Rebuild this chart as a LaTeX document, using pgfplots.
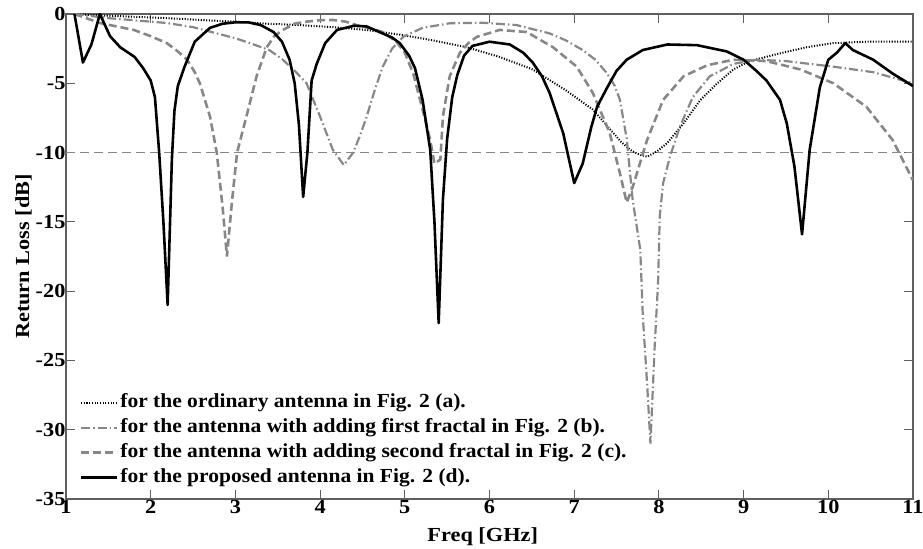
\documentclass[border=0pt]{standalone}
\usepackage{fontspec}
\setmainfont{Liberation Serif}[FakeStretch=1.12]
\newfontfamily\legendfont{Liberation Serif}[FakeStretch=1.08]
\usepackage{pgfplots}
\pgfplotsset{compat=1.18}

\definecolor{curvegray}{RGB}{135,135,135}
\definecolor{axisgray}{RGB}{95,95,95}

\begin{document}
\begin{tikzpicture}

\begin{axis}[
    scale only axis,
    width=847bp, height=485bp,
    xmin=1, xmax=11, ymin=-35, ymax=0,
    xtick={1,2,...,11},
    ytick={-35,-30,...,0},
    tick align=inside,
    tick pos=both,
    major tick length=9bp,
    axis line style={axisgray, line width=1.2pt},
    every tick/.style={axisgray, line width=1pt},
    /pgf/number format/assume math mode=true,
    ticklabel style={font=\fontsize{20}{24}\selectfont\bfseries},
    xticklabel style={yshift=2bp},
    yticklabel style={xshift=3bp},
    xlabel={Freq [GHz]},
    ylabel={Return Loss [dB]},
    label style={font=\fontsize{20}{24}\selectfont\bfseries},
    xlabel style={at={(axis description cs:0.492,-0.078)}, anchor=center},
    ylabel style={at={(axis description cs:-0.05,0.5)}, anchor=center},
    legend style={at={(0.016,0.018)}, anchor=south west, draw=none, fill=none,
        font=\fontsize{20}{25}\selectfont\legendfont\bfseries,
        nodes={text height=14pt, text depth=5pt, inner ysep=3pt, inner xsep=2pt},
        row sep=0pt, inner sep=0pt},
    legend cell align=left,
    legend image code/.code={\draw[#1] (0bp,0bp) -- (36bp,0bp);},
]

% -10 dB reference line
\addplot[forget plot, curvegray, line width=0.9pt, dash pattern=on 9bp off 5bp] coordinates {(1,-10) (11,-10)};

% ordinary antenna
\addplot[black, line width=2pt, dash pattern=on 1.1pt off 1.6pt] coordinates {
(1.1,0) (1.4,-0.1) (1.8,-0.2) (2.2,-0.3) (2.58,-0.43) (3.0,-0.55) (3.37,-0.7)
(3.76,-0.8) (4.15,-0.95) (4.55,-1.15) (4.95,-1.5) (5.33,-1.9) (5.73,-2.4)
(6.12,-3.1) (6.51,-4.0) (6.9,-5.5) (7.22,-6.9) (7.42,-8.3) (7.55,-9.2)
(7.66,-9.8) (7.75,-10.1) (7.86,-10.3) (7.98,-9.9) (8.1,-9.3) (8.29,-7.9)
(8.49,-6.2) (8.69,-5.0) (8.88,-4.0) (9.07,-3.4) (9.39,-2.9) (9.74,-2.4)
(10.06,-2.1) (10.45,-2.0) (11,-2.0)
};
\addlegendentry{for the ordinary antenna in Fig. 2 (a).}

% first fractal
\addplot[curvegray, line width=2.2pt, dash pattern=on 9bp off 3bp on 1.5bp off 3bp] coordinates {
(1.1,0) (1.5,-0.3) (1.8,-0.45) (2.19,-0.65) (2.5,-0.95) (2.78,-1.4) (3.0,-1.75)
(3.17,-2.1) (3.4,-2.6) (3.56,-3.3) (3.7,-4.1) (3.84,-5.0) (4.0,-7.4) (4.15,-9.8)
(4.28,-10.9) (4.39,-10) (4.47,-8.8) (4.55,-7.4) (4.65,-5.4) (4.74,-3.8)
(4.85,-2.5) (4.98,-1.65) (5.21,-1.0) (5.53,-0.67) (5.92,-0.63) (6.32,-0.8)
(6.71,-1.4) (6.9,-1.9) (7.1,-2.6) (7.25,-3.3) (7.39,-4.3) (7.48,-5.2)
(7.54,-6.2) (7.62,-9) (7.69,-13.4) (7.78,-17) (7.81,-21.8) (7.86,-26.6)
(7.9,-31) (7.95,-24) (7.99,-19.4) (8.01,-14.6) (8.05,-12.2) (8.13,-10.3)
(8.25,-8.1) (8.4,-6.0) (8.6,-4.5) (8.88,-3.6) (9.16,-3.3) (9.5,-3.4)
(10.06,-3.8) (10.53,-4.2) (11,-5.0)
};
\addlegendentry{for the antenna with adding first fractal in Fig. 2 (b).}

% second fractal
\addplot[curvegray, line width=2.6pt, dash pattern=on 8bp off 4bp] coordinates {
(1.1,0) (1.4,-0.65) (1.8,-1.15) (2.0,-1.6) (2.19,-2.1) (2.32,-2.7) (2.43,-3.3)
(2.52,-4.2) (2.58,-5.0) (2.7,-7.4) (2.78,-10) (2.85,-14) (2.9,-17.5)
(2.96,-13.5) (3.02,-10) (3.13,-7.4) (3.25,-4.5) (3.37,-2.4) (3.46,-1.6)
(3.56,-1.15) (3.7,-0.7) (3.84,-0.55) (4.0,-0.45) (4.15,-0.43) (4.3,-0.55)
(4.43,-0.8) (4.6,-1.05) (4.74,-1.3) (4.9,-2.0) (5.0,-2.8) (5.1,-4.3)
(5.21,-6.9) (5.3,-9.1) (5.35,-10.8) (5.42,-10.5) (5.45,-7.4) (5.53,-4.5)
(5.65,-2.8) (5.75,-2.1) (5.85,-1.65) (6.12,-1.15) (6.44,-1.3) (6.75,-2.4)
(7.03,-3.8) (7.22,-5.7) (7.42,-8.6) (7.54,-11.5) (7.62,-13.6) (7.69,-12.5)
(7.86,-9.1) (8.05,-6.2) (8.29,-4.5) (8.57,-3.7) (8.88,-3.3) (9.27,-3.4)
(9.67,-4.0) (10.06,-5.0) (10.45,-6.7) (10.76,-9.1) (11,-12)
};
\addlegendentry{for the antenna with adding second fractal in Fig. 2 (c).}

% proposed antenna
\addplot[black, line width=2.6pt, line join=round] coordinates {
(1.1,0) (1.2,-3.5) (1.3,-2.2) (1.4,0) (1.52,-1.6) (1.64,-2.4) (1.81,-3.1)
(1.91,-3.9) (2.0,-4.8) (2.05,-6) (2.1,-10) (2.15,-15) (2.2,-21) (2.25,-10.5)
(2.28,-7) (2.32,-5.2) (2.4,-3.8) (2.52,-2.0) (2.7,-1.0) (2.85,-0.7) (3.0,-0.6)
(3.15,-0.6) (3.3,-0.8) (3.45,-1.3) (3.55,-2.0) (3.64,-3.3) (3.7,-5) (3.75,-8)
(3.8,-13.2) (3.85,-10) (3.9,-4.8) (3.96,-3.6) (4.06,-2.1) (4.2,-1.15)
(4.4,-0.85) (4.55,-0.9) (4.7,-1.3) (4.85,-1.7) (4.94,-2.1) (5.05,-3)
(5.12,-3.9) (5.21,-6.2) (5.3,-9.8) (5.35,-15) (5.4,-22.3) (5.45,-13.4)
(5.5,-9) (5.56,-6) (5.62,-4.4) (5.7,-3.0) (5.8,-2.3) (6.0,-2.0) (6.24,-2.2)
(6.4,-2.8) (6.51,-3.5) (6.62,-4.5) (6.71,-5.7) (6.87,-8.6) (7.0,-12.2)
(7.1,-10.8) (7.2,-8.2) (7.27,-6.7) (7.39,-5.3) (7.5,-4.1) (7.62,-3.3)
(7.81,-2.6) (8.1,-2.2) (8.45,-2.25) (8.8,-2.7) (9.0,-3.3) (9.15,-4.1)
(9.27,-4.8) (9.43,-6.2) (9.51,-7.9) (9.6,-11) (9.69,-15.9) (9.78,-9.8)
(9.9,-5.3) (10.0,-3.3) (10.1,-2.8) (10.2,-2.1) (10.29,-2.6) (10.53,-3.3)
(10.76,-4.3) (11,-5.2)
};
\addlegendentry{for the proposed antenna in Fig. 2 (d).}

\coordinate (ll) at (rel axis cs:0,0);
\coordinate (ur) at (rel axis cs:1,1);
\end{axis}

\pgfresetboundingbox
\useasboundingbox ([shift={(-66bp,-50bp)}]ll) rectangle ([shift={(10bp,14bp)}]ur);
\end{tikzpicture}
\end{document}
